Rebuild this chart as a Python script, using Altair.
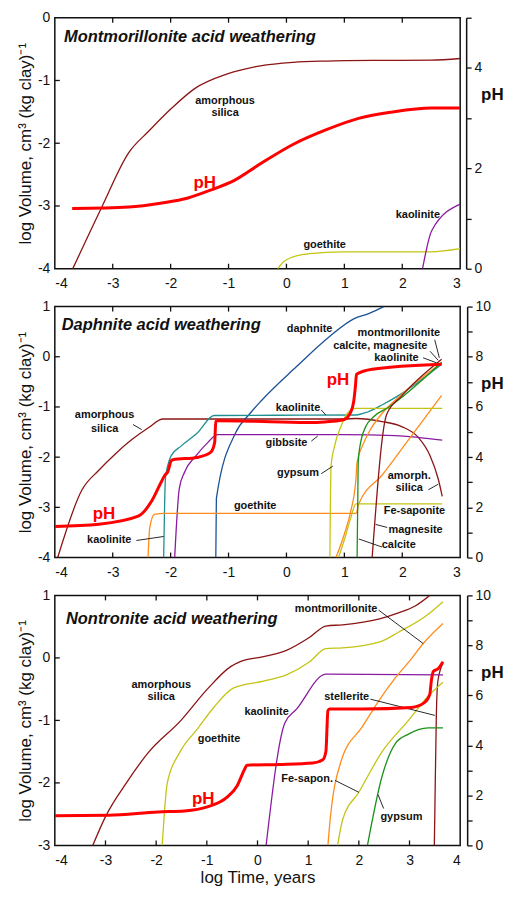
import altair as alt
import pandas as pd

FONT = "Liberation Sans"
W = 407
HEIGHTS = [252, 252, 251]

DARKRED = "#8B1414"
TEAL = "#1E9090"
PURPLE = "#8B1AA0"
BLUE = "#1A5296"
ORANGE = "#FF8C1A"
YELLOW = "#C4C414"
GREEN = "#1A911A"
RED = "#FF0000"

# ---------------- Panel 1: Montmorillonite ----------------
P1_SILICA_X = [-3.69, -3.2, -2.72, -2.38, -1.98, -1.585, -1.02, -0.45, 0.12, 0.69, 1.5, 2.5, 3.0]
P1_SILICA_Y = [-4, -3.04, -2.146, -1.81, -1.44, -1.13, -0.896, -0.766, -0.71, -0.69, -0.68, -0.677, -0.65]
P1_GOETHITE_X = [-0.15, -0.05, 0.12, 0.40, 0.97, 2.5, 3.0]
P1_GOETHITE_Y = [-4, -3.89, -3.81, -3.76, -3.73, -3.73, -3.68]
P1_KAOL_X = [2.35, 2.51, 3.0]
P1_KAOL_Y = [-4, -3.39, -2.97]
P1_PH_X = [-3.7, -2.72, -2.15, -1.70, -1.30, -0.90, -0.45, 0.12, 0.69, 1.26, 1.82, 2.5, 3.0]
P1_PH = [1.20, 1.23, 1.31, 1.41, 1.57, 1.76, 2.09, 2.48, 2.77, 3.0, 3.12, 3.2, 3.2]
P1_LABELS = [("amorphous", -1.06, -1.32), ("silica", -1.06, -1.52),
             ("goethite", 0.66, -3.63), ("kaolinite", 2.27, -3.15)]
P1_PH_LABELS = [("pH", -1.41, -2.63)]
P1_LEADERS = []

# ---------------- Panel 2: Daphnite ----------------
P2_SILICA_X = [-3.95, -3.53, -3.24, -2.96, -2.67, -2.39, -2.13, 1.0, 1.2, 1.65, 1.99, 2.28, 2.48, 2.62, 2.69]
P2_SILICA_Y = [-4, -2.65, -2.26, -1.94, -1.65, -1.42, -1.24, -1.24, -1.23, -1.29, -1.39, -1.61, -1.97, -2.43, -2.78]
P2_DAPH_X = [-1.22, -1.21, -0.88, -0.63, -0.43, 0.17, 0.74, 1.17, 1.42, 1.68]
P2_DAPH_Y = [-4, -2.82, -1.52, -1.13, -0.87, -0.20, 0.40, 0.76, 0.86, 1.0]
P2_KAOL_X = [-2.12, -2.09, -2.05, -1.99, -1.82, -1.54, -1.25, 1.20, 1.40, 1.65, 1.94, 2.68]
P2_KAOL_Y = [-4, -2.43, -2.17, -1.97, -1.78, -1.52, -1.17, -1.16, -1.10, -0.96, -0.77, -0.15]
P2_GIBB_X = [-1.93, -1.85, -1.76, -1.56, -1.36, -1.19, 1.0, 1.88, 2.3, 2.69]
P2_GIBB_Y = [-4, -2.62, -2.30, -1.97, -1.71, -1.55, -1.55, -1.57, -1.61, -1.66]
P2_GOETH_X = [-2.39, -2.36, -2.28, -2.1, 1.20, 1.25, 1.65, 2.11, 2.68]
P2_GOETH_Y = [-4, -3.40, -3.14, -3.12, -3.12, -2.93, -2.36, -1.65, -0.77]
P2_GYPS_X = [0.75, 0.77, 0.83, 0.94, 1.05, 1.20, 2.69]
P2_GYPS_Y = [-4, -2.17, -1.78, -1.39, -1.13, -1.03, -1.03]
P2_FESAP_X = [0.90, 1.03, 1.11, 1.20, 2.69]
P2_FESAP_Y = [-4, -3.53, -3.21, -2.93, -2.93]
P2_MONT_X = [0.855, 1.0, 1.11, 1.20, 1.22, 1.31, 1.45, 1.65, 1.94, 2.68]
P2_MONT_Y = [-4, -3.53, -3.08, -2.43, -2.10, -1.78, -1.45, -1.13, -0.80, -0.12]
P2_CALC_X = [1.22, 1.23, 1.24, 1.28, 1.37, 1.51, 1.77, 2.68]
P2_CALC_Y = [-4, -3.0, -2.10, -1.71, -1.39, -1.19, -1.0, -0.11]
P2_MAGN_X = [1.48, 1.73, 1.99, 2.68]
P2_MAGN_Y = [-4, -1.15, -0.78, -0.05]
P2_PH_X = [-4, -3.24, -2.56, -2.33, -2.16, -2.10, -2.05, -1.99, -1.96, -1.54, -1.31, -1.24, -1.22,
           -1.19, -0.40, 0.46, 0.74, 1.0, 1.10, 1.16, 1.19, 1.21, 1.48, 2.68]
P2_PH = [1.24, 1.33, 1.65, 2.24, 3.02, 3.28, 3.41, 3.86, 3.90, 3.99, 4.19, 4.58, 5.42,
         5.45, 5.42, 5.38, 5.42, 5.50, 5.75, 6.2, 6.8, 7.3, 7.5, 7.7]
P2_LABELS = [("daphnite", 0.40, 0.55), ("montmorillonite", 1.94, 0.48),
             ("calcite, magnesite", 1.62, 0.21), ("kaolinite", 1.90, -0.03),
             ("kaolinite", 0.20, -1.03), ("amorphous", -3.14, -1.16), ("silica", -3.14, -1.43),
             ("gibbsite", 0.0, -1.72), ("gypsum", 0.20, -2.32), ("amorph.", 2.12, -2.37),
             ("silica", 2.12, -2.62), ("goethite", -0.54, -2.98), ("Fe-saponite", 2.21, -3.08),
             ("magnesite", 2.23, -3.45), ("kaolinite", -3.06, -3.66), ("calcite", 1.94, -3.76)]
P2_PH_LABELS = [("pH", 0.89, -0.46), ("pH", -3.15, -3.14)]
P2_LEADERS = [(-2.65, -1.35, -2.50, -1.45), (-2.59, -3.66, -2.12, -3.58), (0.60, -1.06, 0.68, -1.16),
              (0.43, -1.68, 0.54, -1.58), (0.60, -2.33, 0.80, -2.18), (2.45, -2.65, 2.62, -2.54),
              (1.74, -3.40, 1.54, -3.34), (1.65, -3.79, 1.25, -3.63), (2.56, 0.34, 2.64, -0.02),
              (2.48, 0.11, 2.62, -0.07), (2.36, -0.02, 2.59, -0.12)]

# ---------------- Panel 3: Nontronite ----------------
P3_SILICA_X = [-3.25, -3.0, -2.58, -2.16, -1.51, -0.99, -0.53, -0.34, 0.12, 0.57, 1.03, 1.35, 1.68, 2.39, 2.78, 3.11, 3.40]
P3_SILICA_Y = [-3, -2.54, -1.99, -1.52, -1.0, -0.50, -0.14, -0.06, 0.02, 0.12, 0.33, 0.51, 0.53, 0.62, 0.72, 0.83, 1.0]
P3_STELL_X = [3.49, 3.50, 3.53, 3.56, 3.66]
P3_STELL_Y = [-3, -2.46, -0.9, -0.37, -0.09]
P3_GOETH_X = [-1.88, -1.78, -1.54, -1.18, -0.86, -0.47, 0.12, 0.57, 1.03, 1.35, 1.68, 2.43, 2.78, 3.37, 3.66]
P3_GOETH_Y = [-3, -2.0, -1.52, -1.13, -0.79, -0.48, -0.37, -0.27, -0.06, 0.15, 0.16, 0.26, 0.41, 0.70, 0.90]
P3_KAOL_X = [0.17, 0.54, 0.77, 1.35, 3.66]
P3_KAOL_Y = [-3, -1.04, -0.82, -0.26, -0.27]
P3_MONT_X = [1.39, 1.41, 1.65, 2.07, 2.39, 2.72, 3.04, 3.27, 3.66]
P3_MONT_Y = [-3, -2.8, -1.65, -1.10, -0.69, -0.32, -0.01, 0.23, 0.55]
P3_FESAP_X = [1.58, 1.68, 2.0, 2.46, 2.98, 3.37, 3.66]
P3_FESAP_Y = [-3, -2.59, -2.15, -1.50, -1.0, -0.61, -0.39]
P3_GYPS_X = [2.17, 2.46, 2.72, 2.98, 3.37, 3.66]
P3_GYPS_Y = [-3, -1.89, -1.37, -1.22, -1.12, -1.12]
P3_PH_X = [-4, -2.94, -1.96, -1.44, -0.99, -0.60, -0.40, -0.24, -0.21, 0.44, 1.09, 1.29, 1.35, 1.39,
           1.42, 2.07, 3.04, 3.30, 3.40, 3.43, 3.47, 3.56, 3.66]
P3_PH = [1.19, 1.21, 1.34, 1.38, 1.54, 1.93, 2.39, 3.11, 3.21, 3.24, 3.30, 3.43, 3.76, 5.39,
         5.46, 5.46, 5.52, 5.72, 6.04, 6.57, 6.96, 7.06, 7.35]
P3_LABELS = [("montmorillonite", 1.55, 0.79), ("amorphous", -1.90, -0.44), ("silica", -1.90, -0.63),
             ("kaolinite", 0.18, -0.86), ("stellerite", 1.76, -0.62), ("goethite", -0.76, -1.30),
             ("Fe-sapon.", 0.98, -1.93), ("gypsum", 2.84, -2.55)]
P3_PH_LABELS = [("pH", -1.07, -2.25)]
P3_LEADERS = [(2.39, 0.765, 3.27, 0.23), (2.23, -0.66, 3.50, -0.92),
              (1.53, -1.96, 2.0, -2.15), (2.49, -2.41, 2.38, -2.19)]

YTITLE = "log Volume, cm³ (kg clay)⁻¹"


def build_panel(series, ph_x, ph_y, labels, ph_labels, leaders, xdom, ydom, phmax,
                title, title_xy, show_xtitle, ph_offset, H):
    rows = []
    for name, color, xs, ys in series:
        for i, (a, b) in enumerate(zip(xs, ys)):
            rows.append(dict(s=name, c=color, i=i, x=a, y=b))
    df = pd.DataFrame(rows)
    phdf = pd.DataFrame(dict(x=ph_x, ph=ph_y, i=list(range(len(ph_x)))))

    xs = alt.Scale(domain=list(xdom), nice=False, zero=False)
    ys = alt.Scale(domain=list(ydom), nice=False, zero=False)
    phs = alt.Scale(domain=[0, phmax], nice=False, zero=False)

    xticks = list(range(xdom[0], xdom[1] + 1))
    yticks = list(range(ydom[0], ydom[1] + 1))
    phticks = list(range(0, phmax + 1))

    xaxis_kw = dict(values=xticks, ticks=False, domain=False, grid=False, labelFontSize=14,
                    labelPadding=8, labelColor="#111", labelFont=FONT,
                    labelExpr="'' + datum.value")
    if show_xtitle:
        xaxis_kw.update(titleFontSize=17, titleFontWeight="normal", titleFont=FONT,
                        titleColor="#111", titlePadding=2)
        xenc = alt.X("x:Q", scale=xs, axis=alt.Axis(**xaxis_kw), title="log Time, years")
    else:
        xenc = alt.X("x:Q", scale=xs, axis=alt.Axis(**xaxis_kw), title="")

    lines = alt.Chart(df).mark_line(strokeWidth=1.3, clip=True, interpolate="monotone").encode(
        x=xenc,
        y=alt.Y("y:Q", scale=ys, title=YTITLE,
                axis=alt.Axis(values=yticks, ticks=False, domain=False, grid=False,
                              labelFontSize=14, labelPadding=5, labelColor="#111", labelFont=FONT,
                              labelExpr="'' + datum.value",
                              titleFontSize=17, titleFontWeight="normal", titleFont=FONT,
                              titleColor="#111", titlePadding=3)),
        color=alt.Color("c:N", scale=None),
        detail="s:N",
        order="i:Q",
    )

    ph = alt.Chart(phdf).mark_line(color=RED, strokeWidth=3, clip=True, interpolate="monotone").encode(
        x=alt.X("x:Q", scale=xs, axis=None),
        y=alt.Y("ph:Q", scale=phs, title="",
                axis=alt.Axis(orient="right", offset=ph_offset, values=phticks,
                              labelExpr="datum.value % 2 == 0 ? datum.label : ''",
                              grid=False, domainColor="#111", domainWidth=1.5, tickColor="#111",
                              tickWidth=1.3, tickSize=5, labelFontSize=14, labelPadding=3,
                              labelColor="#111", labelFont=FONT)),
        order="i:Q",
    )

    ldf = pd.DataFrame(labels, columns=["t", "x", "y"])
    lab = alt.Chart(ldf).mark_text(font=FONT, fontSize=11, fontWeight="bold", color="#111",
                                   align="center", baseline="middle").encode(
        x=alt.X("x:Q", scale=xs, axis=None), y=alt.Y("y:Q", scale=ys, axis=None), text="t:N")

    pdf = pd.DataFrame(ph_labels, columns=["t", "x", "y"])
    phlab = alt.Chart(pdf).mark_text(font=FONT, fontSize=17, fontWeight="bold", color=RED,
                                     align="center", baseline="middle").encode(
        x=alt.X("x:Q", scale=xs, axis=None), y=alt.Y("y:Q", scale=ys, axis=None), text="t:N")

    tdf = pd.DataFrame([(title, title_xy[0], title_xy[1])], columns=["t", "x", "y"])
    tlab = alt.Chart(tdf).mark_text(font=FONT, fontSize=16.5, fontWeight="bold", fontStyle="italic",
                                    color="#111", align="left", baseline="middle").encode(
        x=alt.X("x:Q", scale=xs, axis=None), y=alt.Y("y:Q", scale=ys, axis=None), text="t:N")

    layers = [lines]

    if leaders:
        ledf = pd.DataFrame(leaders, columns=["x", "y", "x2", "y2"])
        lead = alt.Chart(ledf).mark_rule(color="#111", strokeWidth=0.9).encode(
            x=alt.X("x:Q", scale=xs, axis=None), y=alt.Y("y:Q", scale=ys, axis=None),
            x2="x2:Q", y2="y2:Q")
        layers.append(lead)

    xtdf = pd.DataFrame(dict(v=xticks[1:-1]))
    bt = alt.Chart(xtdf).mark_rule(color="#111", strokeWidth=1.3).encode(
        x=alt.X("v:Q", scale=xs, axis=None), y=alt.value(H - 5), y2=alt.value(H))
    tt = alt.Chart(xtdf).mark_rule(color="#111", strokeWidth=1.3).encode(
        x=alt.X("v:Q", scale=xs, axis=None), y=alt.value(0), y2=alt.value(5))
    ytdf = pd.DataFrame(dict(v=yticks[1:-1]))
    lt = alt.Chart(ytdf).mark_rule(color="#111", strokeWidth=1.3).encode(
        y=alt.Y("v:Q", scale=ys, axis=None), x=alt.value(0), x2=alt.value(5))

    phtitle = alt.Chart(pd.DataFrame(dict(t=["pH"]))).mark_text(
        font=FONT, fontSize=17, fontWeight="bold", color="#111", align="left",
        baseline="middle").encode(x=alt.value(W + 21), y=alt.value(78), text="t:N")

    layers += [bt, tt, lt, lab, tlab, phlab, ph, phtitle]
    return (alt.layer(*layers)
            .resolve_scale(y="independent")
            .resolve_axis(x="independent")
            .properties(width=W, height=H))


p1 = build_panel(
    [("silica", DARKRED, P1_SILICA_X, P1_SILICA_Y),
     ("goethite", YELLOW, P1_GOETHITE_X, P1_GOETHITE_Y),
     ("kaolinite", PURPLE, P1_KAOL_X, P1_KAOL_Y)],
    P1_PH_X, P1_PH, P1_LABELS, P1_PH_LABELS, P1_LEADERS, (-4, 3), (-4, 0), 5,
    "Montmorillonite acid weathering", (-3.84, -0.30), False, 6, HEIGHTS[0])

p2 = build_panel(
    [("silica", DARKRED, P2_SILICA_X, P2_SILICA_Y),
     ("daphnite", BLUE, P2_DAPH_X, P2_DAPH_Y),
     ("kaolinite", TEAL, P2_KAOL_X, P2_KAOL_Y),
     ("gibbsite", PURPLE, P2_GIBB_X, P2_GIBB_Y),
     ("goethite", ORANGE, P2_GOETH_X, P2_GOETH_Y),
     ("gypsum", YELLOW, P2_GYPS_X, P2_GYPS_Y),
     ("fesap", YELLOW, P2_FESAP_X, P2_FESAP_Y),
     ("mont", ORANGE, P2_MONT_X, P2_MONT_Y),
     ("calcite", GREEN, P2_CALC_X, P2_CALC_Y),
     ("magnesite", DARKRED, P2_MAGN_X, P2_MAGN_Y)],
    P2_PH_X, P2_PH, P2_LABELS, P2_PH_LABELS, P2_LEADERS, (-4, 3), (-4, 1), 10,
    "Daphnite acid weathering", (-3.88, 0.63), False, 7, HEIGHTS[1])

p3 = build_panel(
    [("silica", DARKRED, P3_SILICA_X, P3_SILICA_Y),
     ("stellerite", DARKRED, P3_STELL_X, P3_STELL_Y),
     ("goethite", YELLOW, P3_GOETH_X, P3_GOETH_Y),
     ("kaolinite", PURPLE, P3_KAOL_X, P3_KAOL_Y),
     ("mont", ORANGE, P3_MONT_X, P3_MONT_Y),
     ("fesap", YELLOW, P3_FESAP_X, P3_FESAP_Y),
     ("gypsum", GREEN, P3_GYPS_X, P3_GYPS_Y)],
    P3_PH_X, P3_PH, P3_LABELS, P3_PH_LABELS, P3_LEADERS, (-4, 4), (-3, 1), 10,
    "Nontronite acid weathering", (-3.78, 0.63), True, 7, HEIGHTS[2])

chart = alt.vconcat(p1, p2, p3, spacing=7).properties(
    padding={"left": 7, "top": 0, "right": 0, "bottom": 0}
).configure_view(stroke="#111", strokeWidth=1.5)

chart.save("out.html", embed_options={"renderer": "svg", "actions": False})
